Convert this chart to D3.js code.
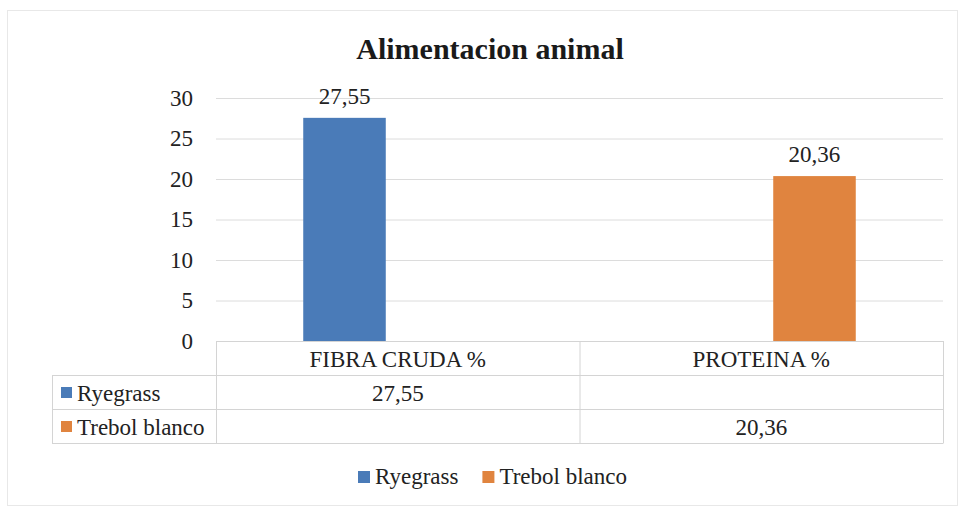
<!DOCTYPE html>
<html>
<head>
<meta charset="utf-8">
<script src="https://cdn.jsdelivr.net/npm/d3@7"></script>
<style>
  html, body { margin: 0; padding: 0; background: #ffffff; }
</style>
</head>
<body>
<svg id="chart" width="962" height="508"></svg>
<script>
const title = "Alimentacion animal";
const categories = ["FIBRA CRUDA %", "PROTEINA %"];
const seriesNames = ["Ryegrass", "Trebol blanco"];
const ryegrass = [27.55, null];
const trebolBlanco = [null, 20.36];
const yTicks = [0, 5, 10, 15, 20, 25, 30];
const colors = ["#4a7bb8", "#e0843f"];

const seriesValues = [ryegrass, trebolBlanco];
const fmt = v => v == null ? "" : d3.format(".2f")(v).replace(".", ",");
const FONT = "'Liberation Serif', 'Times New Roman', serif";
const FS = 23;

const svg = d3.select("#chart");
const W = 962, H = 508;

svg.append("rect").attr("x", 7.5).attr("y", 10.5).attr("width", W - 12).attr("height", H - 13)
  .attr("fill", "#ffffff").attr("stroke", "#e8e8e8").attr("stroke-width", 1);

const plot = { left: 216, right: 943, top: 98, bottom: 341 };
const tableLeft = 52;
const rowH = 34;

const x0 = d3.scaleBand().domain(categories).range([plot.left, plot.right]).paddingInner(0).paddingOuter(0);
const cw = x0.bandwidth();
const x1 = d3.scaleBand().domain(seriesNames).range([cw * 0.24, cw * 0.76]).paddingInner(0.225).paddingOuter(0);
const y = d3.scaleLinear().domain([0, 30]).range([plot.bottom, plot.top]);

svg.append("text").attr("x", 490).attr("y", 59).attr("text-anchor", "middle").attr("font-family", FONT)
  .attr("font-size", 30).attr("font-weight", "bold").attr("fill", "#1a1a1a").text(title);

svg.append("g").selectAll("line").data(yTicks.filter(t => t > 0)).join("line")
  .attr("x1", plot.left).attr("x2", plot.right)
  .attr("y1", d => y(d) + 0.5).attr("y2", d => y(d) + 0.5)
  .attr("stroke", "#dcdcdc").attr("stroke-width", 1);

const yAxis = d3.axisLeft(y).tickValues(yTicks).tickSize(0).tickPadding(23).tickFormat(d3.format("d"));
const gy = svg.append("g").attr("transform", `translate(${plot.left},0)`).call(yAxis)
  .attr("font-family", FONT);
gy.select(".domain").remove();
gy.selectAll("text").attr("font-size", FS).attr("fill", "#222");

const groups = svg.append("g").selectAll("g").data(categories).join("g")
  .attr("transform", d => `translate(${x0(d)},0)`);
groups.each(function(cat, ci) {
  const g = d3.select(this);
  seriesNames.forEach((s, si) => {
    const v = seriesValues[si][ci];
    if (v == null) return;
    g.append("rect").attr("x", x1(s)).attr("width", x1.bandwidth())
      .attr("y", y(v)).attr("height", y(0) - y(v)).attr("fill", colors[si]);
    g.append("text").attr("x", x1(s) + x1.bandwidth() / 2).attr("y", y(v) - 14).attr("font-family", FONT)
      .attr("text-anchor", "middle").attr("font-size", FS).attr("fill", "#222").text(fmt(v));
  });
});

const tg = svg.append("g").attr("stroke", "#d4d4d4").attr("stroke-width", 1).attr("fill", "none");
const tBottom = plot.bottom + rowH * 3;
tg.append("line").attr("x1", plot.left).attr("x2", plot.right).attr("y1", plot.bottom + 0.5).attr("y2", plot.bottom + 0.5);
[1, 2, 3].forEach(r => {
  tg.append("line").attr("x1", tableLeft).attr("x2", plot.right)
    .attr("y1", plot.bottom + rowH * r + 0.5).attr("y2", plot.bottom + rowH * r + 0.5);
});
tg.append("line").attr("x1", tableLeft + 0.5).attr("x2", tableLeft + 0.5).attr("y1", plot.bottom + rowH).attr("y2", tBottom + 0.5);
categories.forEach(c => {
  tg.append("line").attr("x1", x0(c) + 0.5).attr("x2", x0(c) + 0.5).attr("y1", plot.bottom).attr("y2", tBottom + 0.5);
});
tg.append("line").attr("x1", plot.right + 0.5).attr("x2", plot.right + 0.5).attr("y1", plot.bottom).attr("y2", tBottom + 0.5);

svg.append("g").selectAll("text").data(categories).join("text")
  .attr("x", d => x0(d) + cw / 2).attr("y", plot.bottom + rowH - 8).attr("font-family", FONT)
  .attr("text-anchor", "middle").attr("font-size", FS).attr("fill", "#222").text(d => d);

seriesNames.forEach((s, si) => {
  const rowTop = plot.bottom + rowH * (si + 1);
  svg.append("rect").attr("x", 61).attr("y", rowTop + 12).attr("width", 11).attr("height", 11).attr("fill", colors[si]);
  svg.append("text").attr("x", 77).attr("y", rowTop + rowH - 8).attr("font-family", FONT)
    .attr("font-size", FS).attr("fill", "#222").text(s);
  categories.forEach((c, ci) => {
    svg.append("text").attr("x", x0(c) + cw / 2).attr("y", rowTop + rowH - 8).attr("font-family", FONT)
      .attr("text-anchor", "middle").attr("font-size", FS).attr("fill", "#222").text(fmt(seriesValues[si][ci]));
  });
});

const legend = svg.append("g");
let lx = 358;
seriesNames.forEach((s, si) => {
  legend.append("rect").attr("x", lx).attr("y", 471).attr("width", 12).attr("height", 12).attr("fill", colors[si]);
  const t = legend.append("text").attr("x", lx + 17).attr("y", 484).attr("font-family", FONT)
    .attr("font-size", FS).attr("fill", "#222").text(s);
  lx += 17 + t.node().getComputedTextLength() + 24;
});
</script>
</body>
</html>
